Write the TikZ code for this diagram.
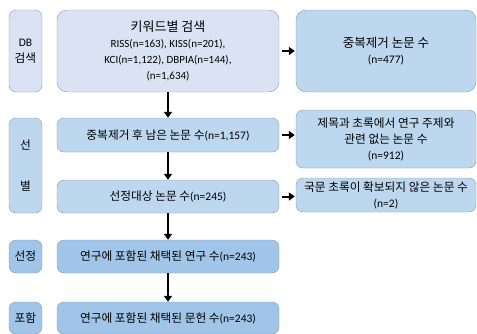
\documentclass[tikz,border=0pt]{standalone}
\usepackage{fontspec}
\setmainfont{Carlito}
\newfontfamily\kr{Noto Sans CJK KR}
\newcommand\K[1]{{\kr\fontsize{11.7}{16}\selectfont #1}}
\usetikzlibrary{arrows.meta}
\definecolor{paleblue}{RGB}{218,227,243}
\definecolor{midblue}{RGB}{189,215,238}
\definecolor{deepblue}{RGB}{160,197,232}
\definecolor{edgegray}{RGB}{140,155,175}
\begin{document}
\begin{tikzpicture}[x=1pt,y=-1pt,>={Triangle[length=6pt,width=8pt]},
  box/.style={draw=edgegray,rounded corners=7pt,align=center,inner sep=2pt,font=\fontsize{11.5}{16}\selectfont},
  phase/.style={box,minimum width=33pt},
  mainbox/.style={box,minimum width=222pt},
  sidebox/.style={box,minimum width=180pt},
  flow/.style={->,line width=2pt}]
\useasboundingbox (0,0) rectangle (477,333);
% phases
\node[phase,fill=paleblue,minimum height=82pt] (p1) at (25.5,51) {DB\\\K{검색}};
\node[phase,fill=midblue,minimum height=95pt] (p2) at (25.5,165.5) {\K{선}\\[25pt]\K{별}};
\node[phase,fill=deepblue,minimum height=33pt] (p3) at (25.5,256.5) {\K{선정}};
\node[phase,fill=deepblue,minimum height=32pt] (p4) at (25.5,318) {\K{포함}};
% main column
\node[mainbox,fill=paleblue,minimum height=82pt,rounded corners=10pt,font=\fontsize{11}{16}\selectfont] (search) at (168,51)
  {{\kr\fontsize{13}{16}\selectfont 키워드별 검색}\\RISS(n=163), KISS(n=201),\\KCI(n=1,122), DBPIA(n=144),\\(n=1,634)};
\node[mainbox,fill=midblue,minimum height=34pt] (dedup) at (168,135) {\K{중복제거 후 남은 논문 수}(n=1,157)};
\node[mainbox,fill=midblue,minimum height=33pt] (target) at (168,196.5) {\K{선정대상 논문 수}(n=245)};
\node[mainbox,fill=deepblue,minimum height=33pt] (study) at (168,256.5) {\K{연구에 포함된 채택된 연구 수}(n=243)};
\node[mainbox,fill=deepblue,minimum height=32pt] (doc) at (168,318) {\K{연구에 포함된 채택된 문헌 수}(n=243)};
% excluded
\node[sidebox,fill=midblue,minimum height=82pt,rounded corners=10pt] (dup) at (386,51) {{\kr\fontsize{12.5}{16}\selectfont 중복제거 논문 수}\\(n=477)};
\node[sidebox,fill=midblue,minimum height=58pt] (offtopic) at (386,139) {\K{제목과 초록에서 연구 주제와}\\\K{관련 없는 논문 수}\\(n=912)};
\node[sidebox,fill=midblue,minimum height=34pt] (noabs) at (386,195) {\K{국문 초록이 확보되지 않은 논문 수}\\(n=2)};
% arrows
\draw[flow] (search) -- (dedup);
\draw[flow] (dedup) -- (target);
\draw[flow] (target) -- (study);
\draw[flow] (study) -- (doc);
\draw[flow,shorten <=3pt,shorten >=1pt] (search.east) -- (search.east-|dup.west);
\draw[flow,shorten <=3pt,shorten >=1pt] (dedup.east) -- (dedup.east-|offtopic.west);
\draw[flow,shorten <=3pt,shorten >=1pt] (target.east) -- (target.east-|noabs.west);
\end{tikzpicture}
\end{document}
